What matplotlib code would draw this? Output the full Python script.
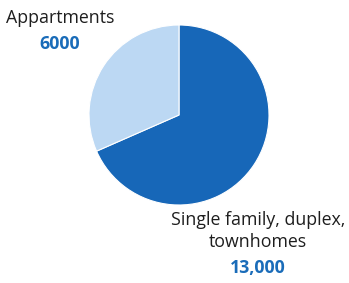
import matplotlib.pyplot as plt

labels = ["Single family, duplex,\ntownhomes", "Appartments"]
values = [13000, 6000]
value_labels = ["13,000", "6000"]
colors = ["#1767b8", "#bcd8f3"]
num_color = "#1a6cb9"

plt.rcParams['font.family'] = ['Open Sans', 'DejaVu Sans']

fig = plt.figure(figsize=(3.49, 2.83), dpi=100)
W, H = 349, 283
cx, cy, r = 179, 115, 90
ax = fig.add_axes([(cx - r) / W, 1 - (cy + r) / H, 2 * r / W, 2 * r / H])
ax.pie(values, colors=colors, startangle=90, counterclock=False, radius=1,
       wedgeprops=dict(edgecolor="white", linewidth=0.8))
ax.set_xlim(-1, 1)
ax.set_ylim(-1, 1)
ax.set_aspect("equal")

fig.text(60 / W, 1 - 18 / H, labels[1], ha="center", va="center", fontsize=12.8, color="#1e1e1e")
fig.text(60 / W, 1 - 44 / H, value_labels[1], ha="center", va="center", fontsize=12.8,
         color=num_color, fontweight="bold")
fig.text(258 / W, 1 - 231 / H, labels[0], ha="center", va="center", fontsize=12.8,
         color="#1e1e1e", linespacing=1.3)
fig.text(258 / W, 1 - 268 / H, value_labels[0], ha="center", va="center", fontsize=12.8,
         color=num_color, fontweight="bold")

fig.savefig("out.png", dpi=100)
